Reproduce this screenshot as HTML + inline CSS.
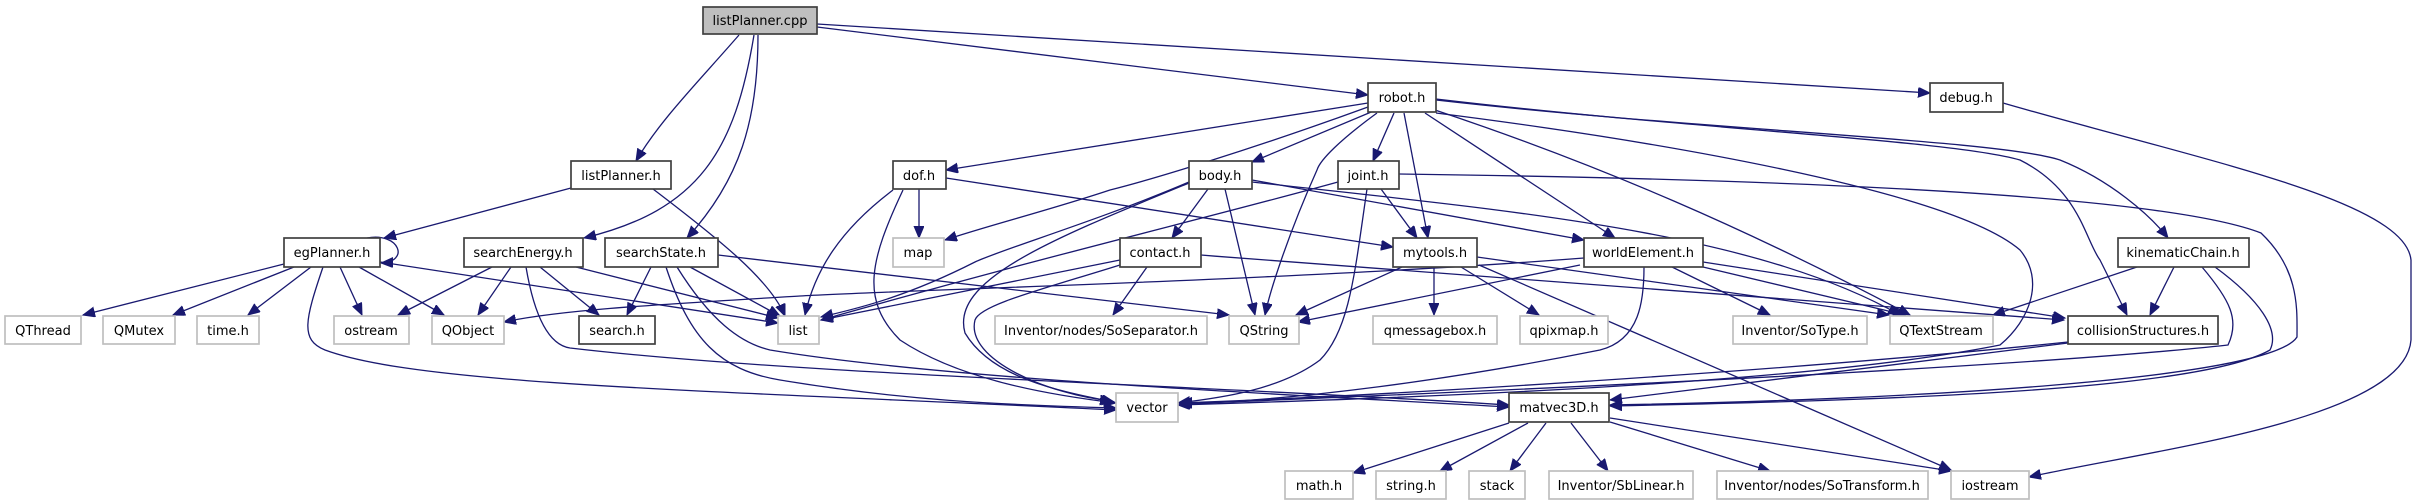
<!DOCTYPE html>
<html><head><meta charset="utf-8"><style>
html,body{margin:0;padding:0;background:#fff}
svg{display:block}
text{font-family:"DejaVu Sans","Liberation Sans",sans-serif;font-size:13px;fill:#000}
.b{fill:#fff;stroke:#404040;stroke-width:1.7}
.g{fill:#fff;stroke:#bfbfbf;stroke-width:1.7}
.e{fill:none;stroke:#191970;stroke-width:1.3;marker-end:url(#a)}
</style></head><body>
<svg width="2413" height="504" viewBox="0 0 2413 504" xmlns="http://www.w3.org/2000/svg">
<defs><marker id="a" markerUnits="userSpaceOnUse" markerWidth="14" markerHeight="12" refX="12" refY="5" orient="auto"><path d="M0,0 L12,5 L0,10 z" fill="#191970" stroke="#191970"/></marker></defs>
<g>
<path class="e" d="M739,35 C700,80 660,120 636,161"/>
<path class="e" d="M754,35 C735,150 700,210 584,238"/>
<path class="e" d="M758,35 C758,120 740,180 687,238"/>
<path class="e" d="M817,27 L1368,95"/>
<path class="e" d="M817,24 L1930,93"/>
<path class="e" d="M571,188 L384,238"/>
<path class="e" d="M653,189 C720,240 770,280 785,316"/>
<path class="e" d="M367,238 C400,232 410,262 381,263"/>
<path class="e" d="M284,264 L83,315"/>
<path class="e" d="M294,267 L173,315"/>
<path class="e" d="M311,267 L248,315"/>
<path class="e" d="M340,267 L362,315"/>
<path class="e" d="M359,267 L444,315"/>
<path class="e" d="M380,262 L778,323"/>
<path class="e" d="M323,267 C305,320 300,340 325,350 C420,385 700,390 1116,410"/>
<path class="e" d="M492,267 L398,315"/>
<path class="e" d="M511,267 L478,315"/>
<path class="e" d="M540,267 L599,315"/>
<path class="e" d="M576,267 L778,318"/>
<path class="e" d="M526,267 C535,320 550,345 570,348 C800,375 1200,385 1509,405"/>
<path class="e" d="M651,267 L627,315"/>
<path class="e" d="M690,267 L780,316"/>
<path class="e" d="M718,255 L1229,315"/>
<path class="e" d="M666,267 C690,340 720,370 780,380 C900,400 1000,405 1116,408"/>
<path class="e" d="M677,267 C710,320 740,343 770,350 C950,380 1300,395 1509,407"/>
<path class="e" d="M1368,103 L946,170"/>
<path class="e" d="M1368,107 C1250,150 1150,180 1110,190 C1050,210 990,225 945,240"/>
<path class="e" d="M1376,110 L1252,162"/>
<path class="e" d="M1377,113 C1340,140 1320,160 1317,170 C1290,230 1270,290 1265,315"/>
<path class="e" d="M1394,113 L1373,161"/>
<path class="e" d="M1404,113 L1428,238"/>
<path class="e" d="M1425,113 L1615,238"/>
<path class="e" d="M1435,110 C1600,165 1750,230 1910,315"/>
<path class="e" d="M1436,99 C1700,130 1950,140 2020,160 C2080,190 2085,240 2100,260 C2115,290 2122,305 2127,315"/>
<path class="e" d="M1436,100 C1700,130 2000,140 2060,160 C2110,180 2150,215 2168,238"/>
<path class="e" d="M1436,113 C1650,140 1950,190 2020,250 C2045,280 2030,320 2000,345 C1800,385 1400,398 1178,405"/>
<path class="e" d="M919,189 L919,238"/>
<path class="e" d="M893,190 C840,230 815,270 805,315"/>
<path class="e" d="M903,190 C870,260 860,300 900,340 C960,380 1050,395 1116,403"/>
<path class="e" d="M946,178 L1393,247"/>
<path class="e" d="M1208,189 L1172,238"/>
<path class="e" d="M1225,189 L1255,315"/>
<path class="e" d="M1189,182 C1100,220 1000,250 975,262 C900,300 850,310 821,317"/>
<path class="e" d="M1189,183 C1050,240 950,280 965,333 C990,375 1050,390 1114,402"/>
<path class="e" d="M1252,180 L1584,240"/>
<path class="e" d="M1252,182 C1500,210 1750,230 1900,315"/>
<path class="e" d="M1338,182 C1200,220 1050,255 821,320"/>
<path class="e" d="M1381,189 L1417,238"/>
<path class="e" d="M1367,189 C1355,270 1350,330 1320,360 C1280,390 1220,398 1178,403"/>
<path class="e" d="M1399,174 C1700,178 2150,190 2261,233 C2300,270 2297,310 2297,337 C2270,380 1900,400 1610,405"/>
<path class="e" d="M1120,260 L821,320"/>
<path class="e" d="M1147,267 L1113,315"/>
<path class="e" d="M1120,265 C1040,290 980,305 975,320 C965,360 1050,395 1112,401"/>
<path class="e" d="M1201,255 C1500,280 1800,300 2064,320"/>
<path class="e" d="M1402,267 L1296,315"/>
<path class="e" d="M1434,267 L1434,315"/>
<path class="e" d="M1461,267 L1539,315"/>
<path class="e" d="M1479,265 L1951,470"/>
<path class="e" d="M1477,257 L1889,315"/>
<path class="e" d="M1584,258 C1300,280 900,290 800,296 C650,305 560,310 504,322"/>
<path class="e" d="M1580,265 L1298,322"/>
<path class="e" d="M1644,267 C1644,300 1640,340 1600,350 C1450,380 1300,400 1180,404"/>
<path class="e" d="M1672,267 L1770,315"/>
<path class="e" d="M1703,267 L1905,315"/>
<path class="e" d="M1703,262 L2065,318"/>
<path class="e" d="M2137,267 L1993,315"/>
<path class="e" d="M2174,267 L2150,315"/>
<path class="e" d="M2202,267 C2230,300 2240,320 2228,345 C2000,370 1400,395 1180,404"/>
<path class="e" d="M2215,267 C2260,300 2280,330 2270,350 C2200,390 1900,400 1610,406"/>
<path class="e" d="M2068,342 C1800,370 1400,395 1180,403"/>
<path class="e" d="M2068,343 L1610,400"/>
<path class="e" d="M1509,423 L1353,473"/>
<path class="e" d="M1528,423 L1440,471"/>
<path class="e" d="M1546,423 L1510,471"/>
<path class="e" d="M1571,423 L1608,471"/>
<path class="e" d="M1610,422 L1770,471"/>
<path class="e" d="M1610,418 L1951,471"/>
<path class="e" d="M2003,103 C2200,160 2405,200 2411,260 L2411,340 C2405,420 2150,450 2029,477"/>
</g>
<g>
<rect x="703" y="7" width="114" height="27" fill="#bfbfbf" stroke="#404040" stroke-width="1.7"/><text x="760" y="25" text-anchor="middle">listPlanner.cpp</text>
<rect class="b" x="1368" y="83" width="68" height="29"/><text x="1402" y="102" text-anchor="middle">robot.h</text>
<rect class="b" x="1930" y="83" width="73" height="29"/><text x="1966" y="102" text-anchor="middle">debug.h</text>
<rect class="b" x="571" y="161" width="100" height="28"/><text x="621" y="180" text-anchor="middle">listPlanner.h</text>
<rect class="b" x="893" y="161" width="53" height="28"/><text x="919" y="180" text-anchor="middle">dof.h</text>
<rect class="b" x="1189" y="161" width="63" height="28"/><text x="1220" y="180" text-anchor="middle">body.h</text>
<rect class="b" x="1338" y="161" width="61" height="28"/><text x="1368" y="180" text-anchor="middle">joint.h</text>
<rect class="b" x="284" y="238" width="96" height="29"/><text x="332" y="257" text-anchor="middle">egPlanner.h</text>
<rect class="b" x="464" y="238" width="119" height="29"/><text x="523" y="257" text-anchor="middle">searchEnergy.h</text>
<rect class="b" x="605" y="238" width="113" height="29"/><text x="661" y="257" text-anchor="middle">searchState.h</text>
<rect class="g" x="893" y="238" width="51" height="29"/><text x="918" y="257" text-anchor="middle">map</text>
<rect class="b" x="1120" y="238" width="81" height="29"/><text x="1160" y="257" text-anchor="middle">contact.h</text>
<rect class="b" x="1393" y="238" width="84" height="29"/><text x="1435" y="257" text-anchor="middle">mytools.h</text>
<rect class="b" x="1584" y="238" width="119" height="29"/><text x="1643" y="257" text-anchor="middle">worldElement.h</text>
<rect class="b" x="2118" y="238" width="131" height="29"/><text x="2183" y="257" text-anchor="middle">kinematicChain.h</text>
<rect class="g" x="5" y="316" width="76" height="28"/><text x="43" y="335" text-anchor="middle">QThread</text>
<rect class="g" x="103" y="316" width="72" height="28"/><text x="139" y="335" text-anchor="middle">QMutex</text>
<rect class="g" x="197" y="316" width="62" height="28"/><text x="228" y="335" text-anchor="middle">time.h</text>
<rect class="g" x="334" y="316" width="75" height="28"/><text x="371" y="335" text-anchor="middle">ostream</text>
<rect class="g" x="432" y="316" width="72" height="28"/><text x="468" y="335" text-anchor="middle">QObject</text>
<rect class="b" x="579" y="316" width="76" height="28"/><text x="617" y="335" text-anchor="middle">search.h</text>
<rect class="g" x="778" y="316" width="41" height="28"/><text x="798" y="335" text-anchor="middle">list</text>
<rect class="g" x="995" y="316" width="212" height="28"/><text x="1101" y="335" text-anchor="middle">Inventor/nodes/SoSeparator.h</text>
<rect class="g" x="1229" y="316" width="70" height="28"/><text x="1264" y="335" text-anchor="middle">QString</text>
<rect class="g" x="1373" y="316" width="124" height="28"/><text x="1435" y="335" text-anchor="middle">qmessagebox.h</text>
<rect class="g" x="1520" y="316" width="88" height="28"/><text x="1564" y="335" text-anchor="middle">qpixmap.h</text>
<rect class="g" x="1733" y="316" width="134" height="28"/><text x="1800" y="335" text-anchor="middle">Inventor/SoType.h</text>
<rect class="g" x="1890" y="316" width="103" height="28"/><text x="1941" y="335" text-anchor="middle">QTextStream</text>
<rect class="b" x="2068" y="316" width="150" height="28"/><text x="2143" y="335" text-anchor="middle">collisionStructures.h</text>
<rect class="g" x="1116" y="393" width="62" height="29"/><text x="1147" y="412" text-anchor="middle">vector</text>
<rect class="b" x="1509" y="393" width="100" height="29"/><text x="1559" y="412" text-anchor="middle">matvec3D.h</text>
<rect class="g" x="1285" y="471" width="68" height="28"/><text x="1319" y="490" text-anchor="middle">math.h</text>
<rect class="g" x="1376" y="471" width="70" height="28"/><text x="1411" y="490" text-anchor="middle">string.h</text>
<rect class="g" x="1469" y="471" width="56" height="28"/><text x="1497" y="490" text-anchor="middle">stack</text>
<rect class="g" x="1549" y="471" width="144" height="28"/><text x="1621" y="490" text-anchor="middle">Inventor/SbLinear.h</text>
<rect class="g" x="1717" y="471" width="211" height="28"/><text x="1822" y="490" text-anchor="middle">Inventor/nodes/SoTransform.h</text>
<rect class="g" x="1951" y="471" width="78" height="28"/><text x="1990" y="490" text-anchor="middle">iostream</text>
</g>
</svg>
</body></html>
